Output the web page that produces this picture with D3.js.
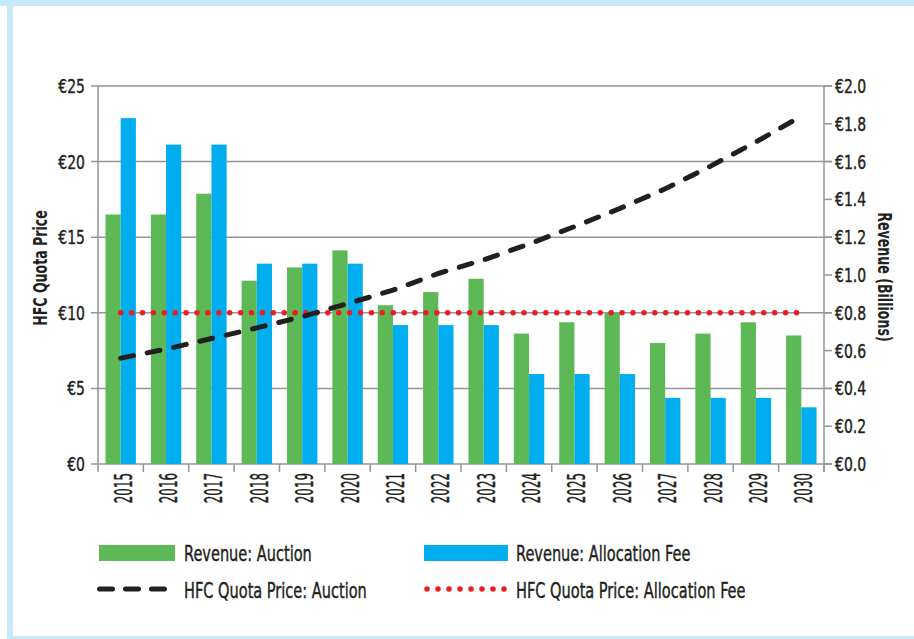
<!DOCTYPE html>
<html>
<head>
<meta charset="utf-8">
<script src="https://cdn.jsdelivr.net/npm/d3@7"></script>
<style>
  body { margin: 0; background: #fff; }
  svg text { font-family: "Liberation Sans Narrow", "DejaVu Sans Condensed", sans-serif; fill: #231f20; stroke: #231f20; stroke-width: 0.4px; }
  svg text.title { font-weight: bold; stroke-width: 0; }
</style>
</head>
<body>
<script>
// chart size
let w = 914;
let h = 639;

// data
let years = ["2015","2016","2017","2018","2019","2020","2021","2022","2023","2024","2025","2026","2027","2028","2029","2030"];
let revenueAuction = [1.32, 1.32, 1.43, 0.97, 1.04, 1.13, 0.84, 0.91, 0.98, 0.69, 0.75, 0.80, 0.64, 0.69, 0.75, 0.68];
let revenueAllocation = [1.83, 1.69, 1.69, 1.06, 1.06, 1.06, 0.735, 0.735, 0.735, 0.476, 0.476, 0.476, 0.35, 0.35, 0.35, 0.30];
let priceAuction = [7.0, 7.6, 8.3, 9.0, 9.75, 10.6, 11.5, 12.6, 13.5, 14.55, 15.7, 16.9, 18.2, 19.7, 21.3, 23.0];
let priceAllocation = [10, 10, 10, 10, 10, 10, 10, 10, 10, 10, 10, 10, 10, 10, 10, 10];
let priceTicks = [0, 5, 10, 15, 20, 25];
let revenueTicks = [0, 0.2, 0.4, 0.6, 0.8, 1.0, 1.2, 1.4, 1.6, 1.8, 2.0];

let green = "#5cb956";
let blue = "#00aeef";
let gridGrey = "#939598";

let svg = d3.select("body").append("svg")
    .attr("width", w)
    .attr("height", h);

// the font is a narrow one, so squeeze the text sideways
function squeeze(x, y, rot, sx) {
    return "translate(" + x + "," + y + ") rotate(" + rot + ") scale(" + sx + ",1)";
}

// frame
svg.append("rect").attr("x", 0).attr("y", 0).attr("width", w).attr("height", 6).attr("fill", "#c8e9f9");
svg.append("rect").attr("x", 7).attr("y", 0).attr("width", 6).attr("height", h).attr("fill", "#c8e9f9");
svg.append("rect").attr("x", 7).attr("y", 636).attr("width", w - 7).attr("height", 3).attr("fill", "#c8e9f9");

let plotLeft = 98, plotRight = 824, plotTop = 86, plotBottom = 464;

let x = d3.scaleBand().domain(years).range([plotLeft, plotRight]).padding(0);
let bw = x.bandwidth();
let sub = d3.scaleBand().domain(["auction", "alloc"]).range([bw * 0.165, bw * 0.835]);
let yL = d3.scaleLinear().domain([0, 25]).range([plotBottom, plotTop]);
let yR = d3.scaleLinear().domain([0, 2]).range([plotBottom, plotTop]);

// gridlines
svg.append("g").selectAll("line")
    .data(priceTicks)
    .enter().append("line")
    .attr("x1", plotLeft - 7).attr("x2", plotRight + 8)
    .attr("y1", d => yL(d)).attr("y2", d => yL(d))
    .attr("stroke", gridGrey).attr("stroke-width", 1.5);

// bars
let bars = svg.append("g");
bars.selectAll(".auc")
    .data(years)
    .enter().append("rect")
    .attr("x", d => x(d) + sub("auction"))
    .attr("width", sub.bandwidth())
    .attr("y", (d, i) => yR(revenueAuction[i]))
    .attr("height", (d, i) => plotBottom - yR(revenueAuction[i]))
    .attr("fill", green);
bars.selectAll(".alloc")
    .data(years)
    .enter().append("rect")
    .attr("x", d => x(d) + sub("alloc"))
    .attr("width", sub.bandwidth())
    .attr("y", (d, i) => yR(revenueAllocation[i]))
    .attr("height", (d, i) => plotBottom - yR(revenueAllocation[i]))
    .attr("fill", blue);

// axes lines
svg.append("line").attr("x1", plotLeft).attr("x2", plotLeft).attr("y1", plotTop).attr("y2", plotBottom)
    .attr("stroke", gridGrey).attr("stroke-width", 1.5);
svg.append("line").attr("x1", plotRight).attr("x2", plotRight).attr("y1", plotTop).attr("y2", plotBottom + 8)
    .attr("stroke", gridGrey).attr("stroke-width", 1.5);

// x ticks at band edges
let edges = years.map(d => x(d)).concat([plotRight]);
svg.append("g").selectAll("line")
    .data(edges)
    .enter().append("line")
    .attr("x1", d => d).attr("x2", d => d)
    .attr("y1", plotBottom).attr("y2", plotBottom + 8)
    .attr("stroke", gridGrey).attr("stroke-width", 1.5);

// year labels
svg.append("g").selectAll("text")
    .data(years)
    .enter().append("text")
    .attr("transform", d => squeeze(x(d) + bw / 2 + 11, plotBottom + 9, -90, 0.55))
    .attr("text-anchor", "end")
    .style("font-size", "24px")
    .text(d => d);

// left tick labels
svg.append("g").selectAll("text")
    .data(priceTicks)
    .enter().append("text")
    .attr("transform", d => squeeze(plotLeft - 13, yL(d) + 7, 0, 0.82))
    .attr("text-anchor", "end")
    .style("font-size", "19px")
    .text(d => "€" + d);

// right ticks + labels
svg.append("g").selectAll("line")
    .data(revenueTicks)
    .enter().append("line")
    .attr("x1", plotRight).attr("x2", plotRight + 8)
    .attr("y1", d => yR(d)).attr("y2", d => yR(d))
    .attr("stroke", gridGrey).attr("stroke-width", 1.5);
svg.append("g").selectAll("text")
    .data(revenueTicks)
    .enter().append("text")
    .attr("transform", d => squeeze(plotRight + 11, yR(d) + 7, 0, 0.82))
    .style("font-size", "19px")
    .text(d => "€" + d.toFixed(1));

// lines
let line = d3.line()
    .x((d, i) => x(years[i]) + bw / 2)
    .y(d => yL(d));

svg.append("path")
    .datum(priceAllocation)
    .attr("d", line)
    .attr("fill", "none")
    .attr("stroke", "#ed1c24")
    .attr("stroke-width", 5.5)
    .attr("stroke-linecap", "round")
    .attr("stroke-dasharray", "0 10.9");

svg.append("path")
    .datum(priceAuction)
    .attr("d", line)
    .attr("fill", "none")
    .attr("stroke", "#231f20")
    .attr("stroke-width", 5)
    .attr("stroke-linecap", "round")
    .attr("stroke-dasharray", "13 14");

// axis titles
svg.append("text")
    .attr("class", "title")
    .attr("transform", squeeze(47, 268, -90, 0.7))
    .attr("text-anchor", "middle")
    .style("font-size", "20px")
    .text("HFC Quota Price");
svg.append("text")
    .attr("class", "title")
    .attr("transform", squeeze(878, 277, 90, 0.7))
    .attr("text-anchor", "middle")
    .style("font-size", "20px")
    .text("Revenue (Billions)");

// legend
let legend = svg.append("g");
legend.append("rect").attr("x", 99).attr("y", 545).attr("width", 76).attr("height", 16).attr("fill", green);
legend.append("rect").attr("x", 424).attr("y", 545).attr("width", 84).attr("height", 16).attr("fill", blue);
legend.append("line").attr("x1", 99.5).attr("x2", 167).attr("y1", 589).attr("y2", 589)
    .attr("stroke", "#231f20").attr("stroke-width", 5).attr("stroke-linecap", "round")
    .attr("stroke-dasharray", "13 13");
legend.append("line").attr("x1", 427).attr("x2", 508).attr("y1", 589).attr("y2", 589)
    .attr("stroke", "#ed1c24").attr("stroke-width", 5.5).attr("stroke-linecap", "round")
    .attr("stroke-dasharray", "0 11");

let legendText = [
    { t: "Revenue: Auction", x: 184, y: 561 },
    { t: "Revenue: Allocation Fee", x: 516, y: 561 },
    { t: "HFC Quota Price: Auction", x: 184, y: 598 },
    { t: "HFC Quota Price: Allocation Fee", x: 516, y: 598 }
];
legend.selectAll("text")
    .data(legendText)
    .enter().append("text")
    .attr("transform", d => squeeze(d.x, d.y, 0, 0.77))
    .style("font-size", "21px")
    .text(d => d.t);
</script>
</body>
</html>
